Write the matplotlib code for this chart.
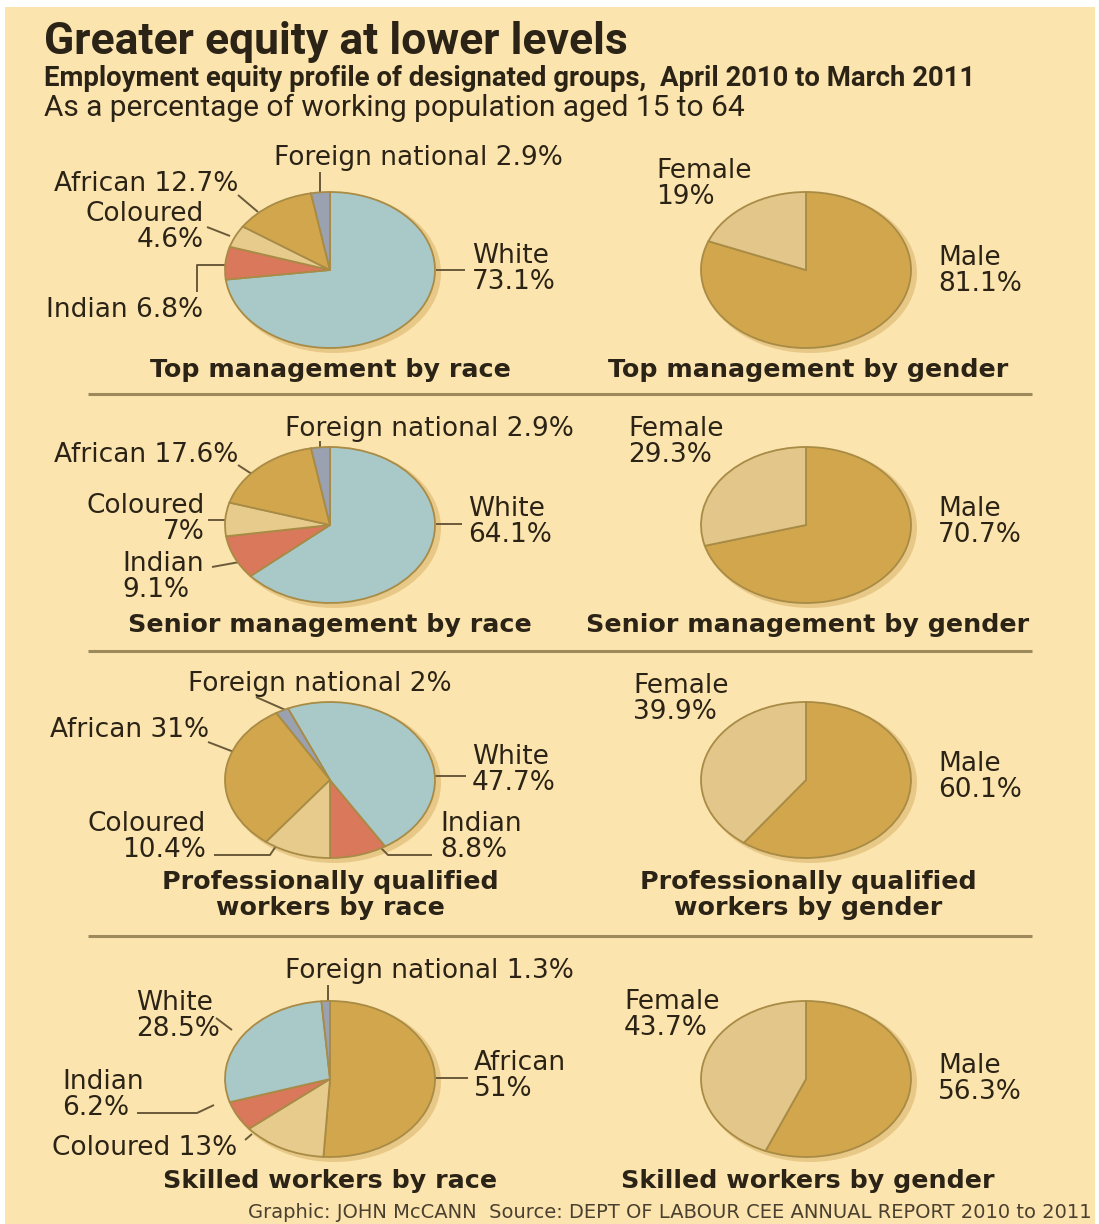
import matplotlib.pyplot as plt
from matplotlib.patches import Rectangle, Ellipse

W, H = 1099, 1224

# data
race_names = ['White', 'Indian', 'Coloured', 'African', 'Foreign national']
top_race = [73.1, 6.8, 4.6, 12.7, 2.9]
senior_race = [64.1, 9.1, 7.0, 17.6, 2.9]
prof_race = [47.7, 8.8, 10.4, 31.0, 2.0]
skilled_race = [28.5, 6.2, 13.0, 51.0, 1.3]

gender_names = ['Male', 'Female']
top_gender = [81.1, 19.0]
senior_gender = [70.7, 29.3]
prof_gender = [60.1, 39.9]
skilled_gender = [56.3, 43.7]

titles_race = ['Top management by race', 'Senior management by race',
               'Professionally qualified\nworkers by race', 'Skilled workers by race']
titles_gender = ['Top management by gender', 'Senior management by gender',
                 'Professionally qualified\nworkers by gender', 'Skilled workers by gender']

# style
BG = '#fce4ae'
INK = '#2b2416'
EDGE = '#a88b45'
race_colors = {'White': '#a9c8c8', 'Indian': '#d9785a', 'Coloured': '#e6cb8c',
               'African': '#d2a64c', 'Foreign national': '#9aa1b0'}
gender_colors = {'Male': '#d2a64c', 'Female': '#e2c68a'}

LABEL_FONT = ['DejaVu Sans']
HEAD_FONT = ['Roboto', 'DejaVu Sans']

fig = plt.figure(figsize=(W / 100, H / 100), dpi=100, facecolor='white')
ax0 = fig.add_axes([0, 0, 1, 1])
ax0.set_xlim(0, W)
ax0.set_ylim(H, 0)
ax0.axis('off')
ax0.add_patch(Rectangle((5, 7), 1090, H - 7, facecolor=BG, edgecolor='none', zorder=0))

ax0.text(44, 42, 'Greater equity at lower levels', family=HEAD_FONT, fontweight='bold',
         fontsize=32, color=INK, va='center', ha='left')
ax0.text(44, 78, 'Employment equity profile of designated groups,  April 2010 to March 2011',
         family=HEAD_FONT, fontweight='bold', fontsize=19.8, color=INK, va='center')
ax0.text(44, 108, 'As a percentage of working population aged 15 to 64',
         family=HEAD_FONT, fontsize=21.5, color=INK, va='center')
ax0.text(1092, 1213, 'Graphic: JOHN McCANN  Source: DEPT OF LABOUR CEE ANNUAL REPORT 2010 to 2011',
         family=LABEL_FONT, fontsize=14, color='#4a4030', va='center', ha='right')

for y in [394, 651, 936]:
    ax0.plot([88, 1032], [y, y], color='#9c8a5c', lw=2.2, solid_capstyle='butt')

row_y = [270, 525, 780, 1079]
race_cx, gender_cx = 330, 806
RX, RY = 105, 78

race_sets = [
    (top_race, ['White', 'Indian', 'Coloured', 'African', 'Foreign national'], 90, False),
    (senior_race, ['White', 'Indian', 'Coloured', 'African', 'Foreign national'], 90, False),
    (prof_race, ['Indian', 'White', 'Foreign national', 'African', 'Coloured'], -90, True),
    (skilled_race, ['African', 'Coloured', 'Indian', 'White', 'Foreign national'], 90, False),
]
gender_sets = [top_gender, senior_gender, prof_gender, skilled_gender]


def pie_axes(cx, cy):
    # soft shadow on the lower right
    ax0.add_patch(Ellipse((cx + 4, cy + 3), 2 * RX + 4, 2 * RY + 4,
                          facecolor='#e3c27e', edgecolor='none', alpha=0.8, zorder=1))
    ax = fig.add_axes([(cx - RX) / W, 1 - (cy + RY) / H, 2 * RX / W, 2 * RY / H])
    return ax


for i in range(4):
    vals, order, start, ccw = race_sets[i]
    v = [vals[race_names.index(n)] for n in order]
    ax = pie_axes(race_cx, row_y[i])
    wedges, _ = ax.pie(v, colors=[race_colors[n] for n in order], startangle=start,
                       counterclock=ccw, radius=1,
                       wedgeprops=dict(edgecolor=EDGE, linewidth=1.3))
    for w in wedges:
        w.set_clip_on(False)
    ax.set_aspect('auto')
    ax.set_xlim(-1, 1)
    ax.set_ylim(-1, 1)
    ax.axis('off')

    gv = gender_sets[i]
    ax = pie_axes(gender_cx, row_y[i])
    wedges, _ = ax.pie(gv, colors=[gender_colors[n] for n in gender_names], startangle=90,
                       counterclock=False, radius=1,
                       wedgeprops=dict(edgecolor=EDGE, linewidth=1.3))
    for w in wedges:
        w.set_clip_on(False)
    ax.set_aspect('auto')
    ax.set_xlim(-1, 1)
    ax.set_ylim(-1, 1)
    ax.axis('off')

# section titles
title_y = [370, 625, 895, 1181]
for i in range(4):
    for cx, t in [(race_cx, titles_race[i]), (gender_cx + 2, titles_gender[i])]:
        ax0.text(cx, title_y[i], t, family=LABEL_FONT, fontweight='bold', fontsize=18.3,
                 color=INK, ha='center', va='center', linespacing=1.1)


def lab(name, value, x, y, ha='left', two=False):
    s = f'{name}\n{value:g}%' if two else f'{name} {value:g}%'
    ax0.text(x, y, s, family=LABEL_FONT, fontsize=19, color=INK, ha=ha, va='center',
             linespacing=1.0)


def lead(xs, ys):
    ax0.plot(xs, ys, color='#6b5a3a', lw=1.4, solid_capstyle='butt')


# labels: (group, x, y, ha, two-line), leaders in figure pixels
race_layout = [
    {'Foreign national': (274, 158, 'left', False), 'African': (54, 184, 'left', False),
     'Coloured': (204, 227, 'right', True), 'Indian': (46, 310, 'left', False),
     'White': (472, 269, 'left', True)},
    {'Foreign national': (285, 429, 'left', False), 'African': (54, 455, 'left', False),
     'Coloured': (205, 519, 'right', True), 'Indian': (122, 577, 'left', True),
     'White': (468, 522, 'left', True)},
    {'Foreign national': (188, 684, 'left', False), 'African': (50, 730, 'left', False),
     'Coloured': (206, 837, 'right', True), 'Indian': (440, 837, 'left', True),
     'White': (472, 770, 'left', True)},
    {'Foreign national': (285, 971, 'left', False), 'African': (474, 1076, 'left', True),
     'Coloured': (52, 1148, 'left', False), 'Indian': (62, 1095, 'left', True),
     'White': (136, 1016, 'left', True)},
]
race_vals = [top_race, senior_race, prof_race, skilled_race]
for i in range(4):
    for n, (x, y, ha, two) in race_layout[i].items():
        lab(n, race_vals[i][race_names.index(n)], x, y, ha, two)

gender_layout = [
    {'Female': (656, 184), 'Male': (938, 271)},
    {'Female': (628, 442), 'Male': (938, 522)},
    {'Female': (633, 699), 'Male': (938, 777)},
    {'Female': (624, 1015), 'Male': (938, 1079)},
]
for i in range(4):
    for n, (x, y) in gender_layout[i].items():
        lab(n, gender_sets[i][gender_names.index(n)], x, y, 'left', True)

# leader lines
lead([320, 320], [172, 192])
lead([238, 258], [195, 212])
lead([207, 230], [227, 236])
lead([197, 197, 226], [292, 265, 265])
lead([436, 465], [270, 270])

lead([320, 320], [441, 450])
lead([238, 258], [465, 478])
lead([208, 226], [520, 520])
lead([212, 256], [567, 559])
lead([436, 462], [524, 524])

lead([256, 290], [697, 712])
lead([208, 234], [742, 752])
lead([214, 270, 276], [855, 855, 846])
lead([380, 388, 432], [847, 855, 855])
lead([432, 466], [776, 776])

lead([328, 328], [985, 1002])
lead([216, 232], [1018, 1030])
lead([137, 197, 214], [1113, 1113, 1105])
lead([245, 252], [1140, 1134])
lead([434, 468], [1078, 1078])

plt.savefig('out.png', dpi=100, facecolor=fig.get_facecolor())
